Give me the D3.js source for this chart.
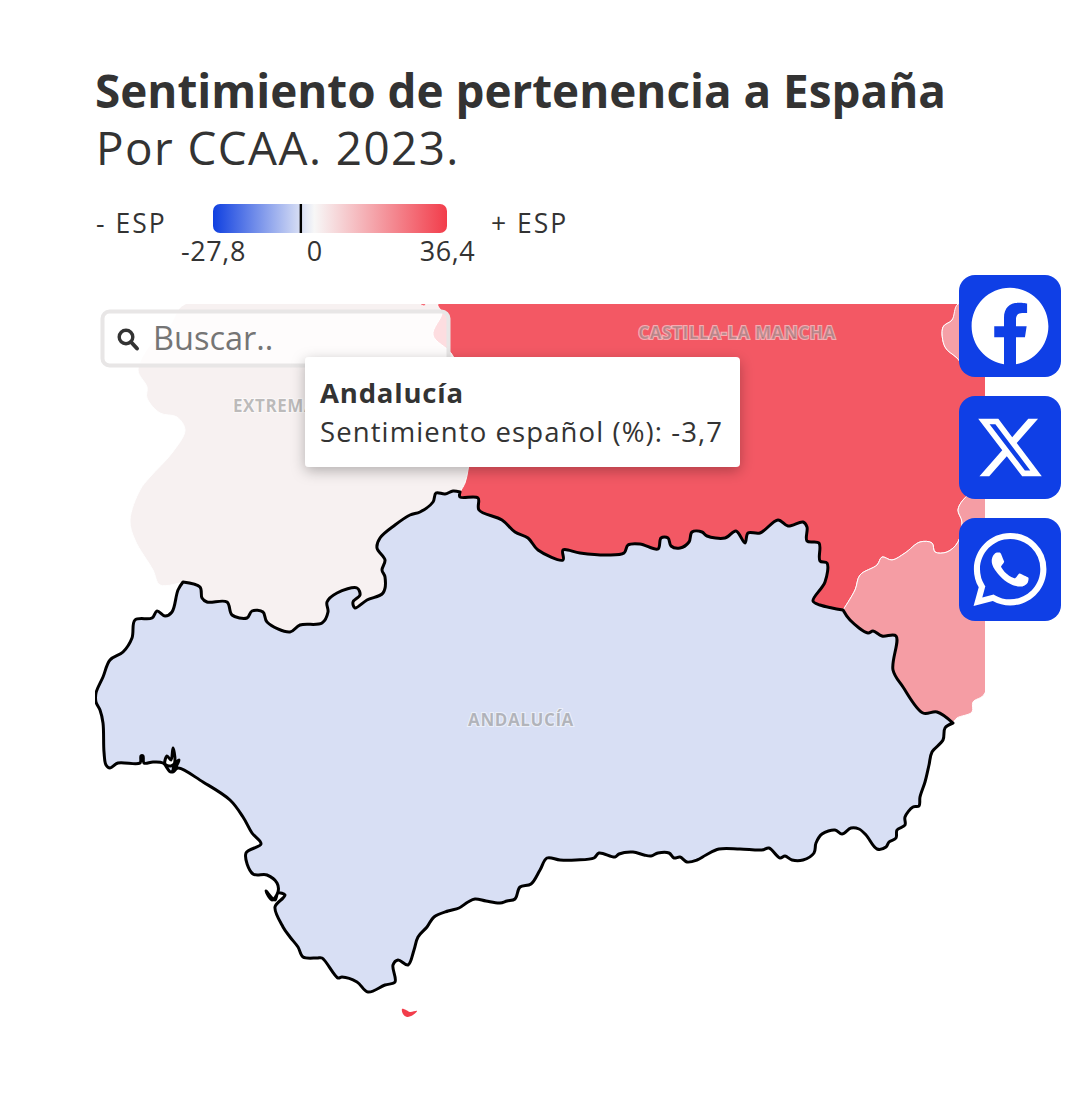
<!DOCTYPE html>
<html lang="es">
<head>
<meta charset="utf-8">
<title>Sentimiento de pertenencia a España</title>
<script src="https://cdn.jsdelivr.net/npm/d3@7"></script>
<style>
    html, body { margin: 0; padding: 0; background: #fff; }
    svg { display: block; }
    text { font-family: "Open Sans", sans-serif; fill: #333; }
</style>
</head>
<body>
<div id="chart"></div>
<script>
//Datos: valores por CCAA
let regiones = ['Andalucía', 'Castilla-La Mancha', 'Extremadura', 'Región de Murcia', 'C. Valenciana', 'Ceuta'];
let valores = [-3.7, 31.1, 1.2, 17.6, 17, 36.4];
let etiquetas = ['ANDALUCÍA', 'CASTILLA-LA MANCHA', 'EXTREMADURA'];
let legendaTicks = [-27.8, 0, 36.4];
let legendaExtremos = ['- ESP', '+ ESP'];
let seleccionada = 'Andalucía';

//Contornos calcados del mapa, en unidades del mapa (890 de ancho)
let limiteClmAnd = [[365,188],[365,193],[383,194],[384,206],[407,216],[420,228],[433,234],[443,246],[468,256],[468,246],[485,249],[512,251],[529,249],[533,241],[545,240],[563,245],[566,234],[573,234],[576,242],[585,244],[594,238],[597,228],[607,228],[612,232],[630,234],[641,227],[650,239],[653,229],[665,229],[683,216],[693,222],[708,218],[712,223],[712,237],[724,239],[725,257],[732,259],[730,278],[718,297],[725,301],[737,304],[748,306]];
let limiteMurAnd = [[748,306],[755,316],[773,329],[778,327],[787,332],[801,332],[798,366],[808,383],[828,409],[842,408],[858,419]];
let costaAnd = [[858,419],[850,424],[848,436],[837,448],[834,461],[830,478],[825,493],[824,502],[818,503],[810,513],[810,521],[802,526],[801,534],[794,538],[791,543],[782,545],[771,531],[764,525],[756,524],[747,530],[740,526],[727,530],[721,539],[719,549],[708,556],[697,556],[690,552],[685,554],[674,544],[667,546],[645,545],[624,545],[611,551],[602,556],[592,558],[585,553],[579,554],[574,549],[563,549],[556,552],[549,551],[538,548],[524,550],[520,553],[504,549],[499,554],[481,556],[465,556],[452,554],[445,566],[436,580],[425,583],[420,595],[412,597],[405,599],[391,597],[380,595],[373,598],[364,604],[353,607],[339,613],[332,623],[323,633],[319,646],[313,661],[303,656],[298,661],[300,678],[290,681],[273,688],[262,678],[247,673],[243,674],[227,654],[222,654],[208,653],[203,643],[195,633],[188,623],[180,603],[188,594],[190,591],[183,589],[180,596],[171,587],[177,596],[183,588],[182,579],[172,571],[158,570],[151,549],[166,540],[157,529],[148,513],[135,496],[108,478],[83,464],[78,468],[80,456],[78,444],[76,456],[72,452],[70,460],[76,462],[84,456],[76,468],[68,459],[58,458],[49,459],[48,452],[46,452],[45,459],[23,459],[15,464],[11,461],[9,448],[8,419],[5,406],[1,398],[1,389],[8,373],[15,356],[28,348],[37,334],[40,316],[57,314],[62,307],[70,312],[77,308],[83,286],[88,278]];
let limiteExtAnd = [[88,278],[105,283],[107,294],[112,298],[132,298],[137,311],[152,314],[157,307],[168,308],[172,318],[195,328],[205,321],[227,319],[233,308],[232,298],[242,289],[262,284],[265,291],[258,298],[260,304],[272,296],[288,289],[290,273],[287,266],[290,256],[282,244],[285,234],[300,221],[315,211],[325,208],[338,198],[341,189],[350,190],[358,187],[365,188]];
let limiteExtClm = [[343,0],[347,9],[338,31],[358,52],[367,96],[375,146],[373,166],[370,179],[365,188]];
let oesteExt = [[88,278],[65,281],[58,266],[40,236],[35,216],[45,186],[55,173],[77,149],[90,126],[82,113],[65,109],[52,94],[52,83],[43,66],[55,41],[75,21],[90,0]];
let limiteClmMur = [[748,306],[760,286],[765,271],[782,261],[787,253],[797,256],[810,249],[825,238],[837,239],[840,248],[852,248],[863,238],[867,218],[863,206],[868,196],[880,186],[890,181]];
let limiteClmVal = [[890,61],[875,68],[862,54],[850,43],[848,23],[857,16],[863,0]];
let costaMur = [[858,419],[862,414],[877,408],[878,398],[890,389]];
let bordeCeuta = [[307,705],[311,706],[315,708],[322,707],[318,711],[312,713],[308,710]];
let motaClm = [[325,0],[331,0],[329,2]];

let width = 1080, height = 1106;

let svg = d3.select('#chart').append('svg')
    .attr('width', width)
    .attr('height', height);

let defs = svg.append('defs');

//Escalas
let xMapa = d3.scaleLinear().domain([0, 890]).range([95, 985]);
let yMapa = d3.scaleLinear().domain([0, 730]).range([304, 1034]);
let coma = function(v) { return String(v).replace('.', ','); };
let color = d3.scaleLinear()
    .domain([legendaTicks[0], 0, legendaTicks[2]])
    .range(['#1040e0', '#f7f7f7', '#f23d4b']);
let xLeyenda = d3.scaleLinear()
    .domain([legendaTicks[0], legendaTicks[2]])
    .range([213, 447]);

defs.append('clipPath').attr('id', 'marco')
    .append('rect')
    .attr('x', xMapa(0)).attr('y', yMapa(0))
    .attr('width', xMapa(890) - xMapa(0)).attr('height', yMapa(730) - yMapa(0));

let sombra = defs.append('filter').attr('id', 'sombra')
    .attr('x', '-10%').attr('y', '-20%').attr('width', '120%').attr('height', '150%');
sombra.append('feDropShadow')
    .attr('dx', 0).attr('dy', 4).attr('stdDeviation', 7)
    .attr('flood-color', '#000').attr('flood-opacity', 0.28);

function valorDe(nombre) {
    return valores[regiones.indexOf(nombre)];
}

//Título
svg.append('text').attr('x', 95).attr('y', 108)
    .attr('font-size', 45.8).attr('font-weight', 700)
    .text('Sentimiento de pertenencia a España');
svg.append('text').attr('x', 96).attr('y', 165)
    .attr('font-size', 45.8).attr('letter-spacing', 1.45)
    .text('Por CCAA. 2023.');

//Leyenda
let grad = defs.append('linearGradient').attr('id', 'grad');
legendaTicks.forEach(function(d) {
    grad.append('stop')
        .attr('offset', (xLeyenda(d) - 213) / 234)
        .attr('stop-color', color(d));
});
svg.append('rect')
    .attr('x', xLeyenda.range()[0]).attr('y', 204)
    .attr('width', xLeyenda.range()[1] - xLeyenda.range()[0]).attr('height', 29)
    .attr('rx', 7)
    .attr('fill', 'url(#grad)');
svg.append('rect')
    .attr('x', xLeyenda(valorDe(seleccionada)) - 1.2).attr('y', 204)
    .attr('width', 2.4).attr('height', 29)
    .attr('fill', '#000');

let ejeLeyenda = svg.append('g')
    .attr('transform', 'translate(0,233)')
    .call(d3.axisBottom(xLeyenda).tickValues(legendaTicks).tickSize(0).tickPadding(9).tickFormat(coma));
ejeLeyenda.select('.domain').remove();
ejeLeyenda.selectAll('text')
    .attr('font-size', 27).attr('font-family', 'Open Sans').attr('letter-spacing', 0.6).style('fill', '#333');

svg.append('text').attr('x', 96).attr('y', 233).attr('font-size', 26.5).attr('letter-spacing', 2).text(legendaExtremos[0]);
svg.append('text').attr('x', 491).attr('y', 233).attr('font-size', 26.5).attr('letter-spacing', 2).text(legendaExtremos[1]);

//Mapa
let linea = d3.line()
    .x(function(d) { return xMapa(d[0]); })
    .y(function(d) { return yMapa(d[1]); })
    .curve(d3.curveCatmullRomClosed.alpha(0.5));

let anilloAnd = limiteClmAnd.concat(limiteMurAnd, costaAnd, limiteExtAnd);
let anilloExt = oesteExt.concat(limiteExtClm, limiteExtAnd.slice().reverse());
let anilloClm = limiteExtClm.concat(limiteClmAnd, limiteClmMur, limiteClmVal);
let anilloMur = limiteMurAnd.concat(costaMur, limiteClmMur.slice().reverse());
let anilloVal = limiteClmVal.concat([[890, 0]]);

let features = [
    {nombre: 'Extremadura', anillos: [anilloExt]},
    {nombre: 'Castilla-La Mancha', anillos: [anilloClm, motaClm]},
    {nombre: 'Región de Murcia', anillos: [anilloMur]},
    {nombre: 'C. Valenciana', anillos: [anilloVal]},
    {nombre: 'Ceuta', anillos: [bordeCeuta]},
    {nombre: 'Andalucía', anillos: [anilloAnd]}
];

let mapa = svg.append('g').attr('clip-path', 'url(#marco)');

mapa.selectAll('path')
    .data(features)
    .enter()
    .append('path')
    .attr('d', function(d) { return d.anillos.map(linea).join(''); })
    .attr('fill', function(d) { return color(valorDe(d.nombre)); })
    .attr('stroke', function(d) { return d.nombre == seleccionada ? '#000' : '#fff'; })
    .attr('stroke-width', function(d) { return d.nombre == seleccionada ? 3 : (d.nombre == 'Ceuta' ? 0 : 1); })
    .attr('stroke-linejoin', 'round');

//Etiquetas de CCAA
let posEtiquetas = [[521, 726], [737, 339], [300, 412]];
mapa.selectAll('text')
    .data(etiquetas)
    .enter()
    .append('text')
    .attr('x', function(d, i) { return posEtiquetas[i][0]; })
    .attr('y', function(d, i) { return posEtiquetas[i][1]; })
    .attr('text-anchor', 'middle')
    .attr('font-size', 17)
    .attr('letter-spacing', 0.6)
    .attr('font-weight', 700)
    .attr('stroke', 'rgba(255,255,255,0.5)')
    .attr('stroke-width', 2)
    .attr('paint-order', 'stroke')
    .style('fill', 'rgba(110,110,110,0.45)')
    .text(function(d) { return d; });

//Buscador
svg.append('rect')
    .attr('x', 102.5).attr('y', 311.5)
    .attr('width', 346).attr('height', 54)
    .attr('rx', 7)
    .attr('fill', 'rgba(255,255,255,0.8)')
    .attr('stroke', '#e8e6e6')
    .attr('stroke-width', 4);
svg.append('circle')
    .attr('cx', 126).attr('cy', 337).attr('r', 6.8)
    .attr('fill', 'none').attr('stroke', '#333').attr('stroke-width', 3.4);
svg.append('line')
    .attr('x1', 131).attr('y1', 342).attr('x2', 137).attr('y2', 348.5)
    .attr('stroke', '#333').attr('stroke-width', 4).attr('stroke-linecap', 'round');
svg.append('text')
    .attr('x', 153).attr('y', 350)
    .attr('font-size', 32.5)
    .style('fill', '#757575')
    .text('Buscar..');

//Tooltip
svg.append('rect')
    .attr('x', 305).attr('y', 357)
    .attr('width', 435).attr('height', 110)
    .attr('rx', 4)
    .attr('fill', '#fff')
    .attr('filter', 'url(#sombra)');
svg.append('text').attr('x', 320).attr('y', 403)
    .attr('font-size', 27.5).attr('font-weight', 700).attr('letter-spacing', 0.8)
    .text(seleccionada);
svg.append('text').attr('x', 320).attr('y', 442)
    .attr('font-size', 27.5).attr('letter-spacing', 1.1)
    .text('Sentimiento español (%): ' + coma(valorDe(seleccionada)));

//Botones para compartir
let azul = '#0f3fe6';
let iconos = [
    {y: 275, h: 102, escala: 3.2, d: 'M24 12.073c0-6.627-5.373-12-12-12s-12 5.373-12 12c0 5.99 4.388 10.954 10.125 11.854v-8.385H7.078v-3.47h3.047V9.43c0-3.007 1.792-4.669 4.533-4.669 1.312 0 2.686.235 2.686.235v2.953H15.83c-1.491 0-1.956.925-1.956 1.874v2.25h3.328l-.532 3.47h-2.796v8.385C19.612 23.027 24 18.062 24 12.073z'},
    {y: 396, h: 103, escala: 2.65, d: 'M18.901 1.153h3.68l-8.04 9.19L24 22.846h-7.406l-5.8-7.584-6.638 7.584H.474l8.6-9.83L0 1.154h7.594l5.243 6.932ZM17.61 20.644h2.039L6.486 3.24H4.298Z'},
    {y: 518, h: 103, escala: 3.05, d: 'M17.472 14.382c-.297-.149-1.758-.867-2.03-.967-.273-.099-.471-.148-.67.15-.197.297-.767.966-.94 1.164-.173.199-.347.223-.644.075-.297-.15-1.255-.463-2.39-1.475-.883-.788-1.48-1.761-1.653-2.059-.173-.297-.018-.458.13-.606.134-.133.298-.347.446-.52.149-.174.198-.298.298-.497.099-.198.05-.371-.025-.52-.075-.149-.669-1.612-.916-2.207-.242-.579-.487-.5-.669-.51-.173-.008-.371-.01-.57-.01-.198 0-.52.074-.792.372-.272.297-1.04 1.016-1.04 2.479 0 1.462 1.065 2.875 1.213 3.074.149.198 2.096 3.2 5.077 4.487.709.306 1.262.489 1.694.625.712.227 1.36.195 1.871.118.571-.085 1.758-.719 2.006-1.413.248-.694.248-1.289.173-1.413-.074-.124-.272-.198-.57-.347m-5.421 7.403h-.004a9.87 9.87 0 01-5.031-1.378l-.361-.214-3.741.982.998-3.648-.235-.374a9.86 9.86 0 01-1.51-5.26c.001-5.45 4.436-9.884 9.888-9.884 2.64 0 5.122 1.03 6.988 2.898a9.825 9.825 0 012.893 6.994c-.003 5.45-4.437 9.884-9.885 9.884m8.413-18.297A11.815 11.815 0 0012.05 0C5.495 0 .16 5.335.157 11.892c0 2.096.547 4.142 1.588 5.945L.057 24l6.305-1.654a11.882 11.882 0 005.683 1.448h.005c6.554 0 11.89-5.335 11.893-11.893a11.821 11.821 0 00-3.48-8.413z'}
];

let botones = svg.selectAll('.boton')
    .data(iconos)
    .enter()
    .append('g')
    .attr('class', 'boton')
    .attr('transform', function(d) { return 'translate(959,' + d.y + ')'; });
botones.append('rect')
    .attr('width', 102)
    .attr('height', function(d) { return d.h; })
    .attr('rx', 16)
    .attr('fill', azul);
botones.append('path')
    .attr('d', function(d) { return d.d; })
    .attr('fill', '#fff')
    .attr('transform', function(d) {
        let t = 51 - 12 * d.escala;
        return 'translate(' + t + ',' + (d.h / 2 - 12 * d.escala) + ') scale(' + d.escala + ')';
    });
</script>
</body>
</html>
